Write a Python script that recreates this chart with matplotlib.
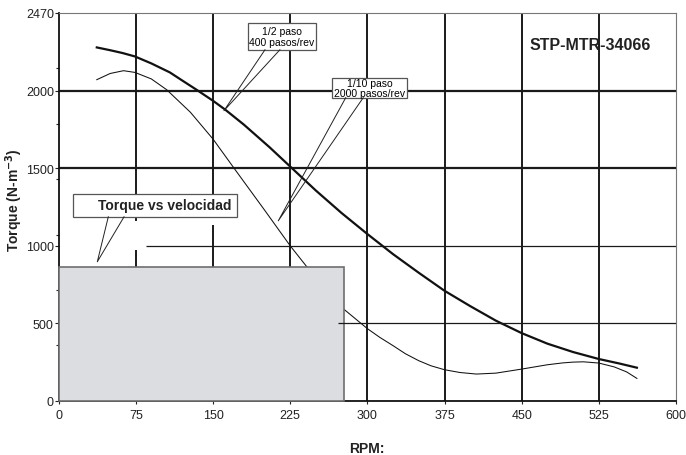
import numpy as np
import matplotlib.pyplot as plt
from matplotlib.patches import Rectangle

plt.rcParams['font.family'] = ['Liberation Sans', 'DejaVu Sans']

# curve readings (RPM, torque)
rpm_half = [37, 50, 62, 74, 90, 108, 120, 134, 150, 162, 180, 205, 225, 250, 275,
            300, 325, 350, 375, 400, 425, 450, 475, 500, 525, 545, 562]
torque_half = [2278, 2260, 2242, 2220, 2175, 2117, 2065, 2005, 1934, 1876, 1780,
               1634, 1510, 1355, 1210, 1075, 945, 825, 709, 610, 516, 436, 368,
               314, 269, 240, 213]

rpm_tenth = [37, 50, 63, 74, 90, 105, 128, 150, 171, 200, 225, 241, 260, 277,
             300, 312, 325, 337, 350, 362, 375, 390, 406, 425, 450, 475, 490,
             500, 510, 525, 540, 552, 562]
torque_tenth = [2070, 2110, 2128, 2117, 2075, 2005, 1860, 1687, 1494, 1230, 999,
                865, 720, 591, 465, 409, 355, 303, 258, 225, 200, 182, 172, 178,
                204, 232, 244, 249, 251, 243, 218, 186, 144]

x_ticks = [0, 75, 150, 225, 300, 375, 450, 525, 600]
y_ticks = [0, 500, 1000, 1500, 2000, 2500]
y_tick_labels = ['0', '500', '1000', '1500', '2000', '2470']
y_minor = [2500 * k / 7 for k in range(1, 7)]

fig = plt.figure(figsize=(6.86, 4.56), dpi=100)
ax = fig.add_axes([0.0856, 0.119, 0.8998, 0.8503])
ax.set_xlim(0, 600)
ax.set_ylim(0, 2500)

grid_c = '#1a1a1a'
# grid lines (some are partial in the original)
ax.hlines([1500, 2000], 0, 600, color=grid_c, lw=1.6, zorder=1)
ax.hlines(1000, 85, 600, color=grid_c, lw=0.9, zorder=1)
ax.hlines(500, 271, 600, color=grid_c, lw=0.9, zorder=4)
ax.vlines([225, 300, 375, 450, 525], 0, 2500, color=grid_c, lw=1.4, zorder=1)
ax.vlines([75, 75], [865, 1160], [970, 2500], color=grid_c, lw=1.4, zorder=1)
ax.vlines([150, 150], [865, 1186], [1133, 2500], color=grid_c, lw=1.4, zorder=1)

ax.plot(rpm_tenth, torque_tenth, color='#111111', lw=0.75, zorder=2)
ax.plot(rpm_half, torque_half, color='#111111', lw=1.6, zorder=2)

# grey region
ax.add_patch(Rectangle((0, 0), 277, 865, fc='#dcdde0', ec='#6e6e6e', lw=1.2,
                       zorder=3, clip_on=False))

# callout boxes
def callout(x0, x1, y0, y1, base, tip):
    ax.add_patch(Rectangle((x0, y0), x1 - x0, y1 - y0, fc='white', ec='#555555',
                           lw=0.9, zorder=5))
    ax.plot([base[0], tip[0], base[1]], [y0, tip[1], y0], color='#222222',
            lw=0.7, zorder=5)

callout(184, 250, 2263, 2433, (200.5, 215), (160.6, 1870))
ax.text(217, 2348, '1/2 paso\n400 pasos/rev', ha='center', va='center',
        fontsize=7.5, linespacing=1.05, zorder=6)

callout(265.6, 338.5, 1954, 2081, (279, 296), (213.4, 1160))
ax.text(302, 2017, '1/10 paso\n2000 pasos/rev', ha='center', va='center',
        fontsize=7.5, linespacing=1.05, zorder=6)

callout(14, 173, 1186, 1333, (48.2, 63.5), (37.5, 896))
ax.text(103, 1264, 'Torque vs velocidad', ha='center', va='center',
        fontsize=10, fontweight='bold', color='#222222', zorder=6)

ax.text(516.5, 2300, 'STP-MTR-34066', ha='center', va='center',
        fontsize=11.5, fontweight='bold', color='#222222', zorder=6)

# axes styling
for s in ['top', 'right']:
    ax.spines[s].set_color('#777777')
    ax.spines[s].set_linewidth(0.8)
for s in ['left', 'bottom']:
    ax.spines[s].set_color('#111111')
    ax.spines[s].set_linewidth(1.3)

ax.set_xticks(x_ticks)
ax.set_xticklabels([str(v) for v in x_ticks])
ax.set_yticks(y_ticks)
ax.set_yticklabels(y_tick_labels)
ax.set_yticks(y_minor, minor=True)
ax.tick_params(axis='x', length=2, width=0.8, pad=4, labelsize=9, colors='#222222')
ax.tick_params(axis='y', which='major', length=3, width=0.8, pad=0.5, labelsize=9,
               colors='#222222')
ax.tick_params(axis='y', which='minor', length=2, width=0.8, colors='#222222')

ax.set_xlabel('RPM:', fontsize=10, fontweight='bold', color='#222222')
ax.xaxis.set_label_coords(0.5, -0.104)
ax.set_ylabel('Torque (N-m$^{\\mathbf{-3}}$)', fontsize=10, fontweight='bold',
              color='#222222')
ax.yaxis.set_label_coords(-0.055, 0.52)

fig.savefig('out.png', dpi=100)
